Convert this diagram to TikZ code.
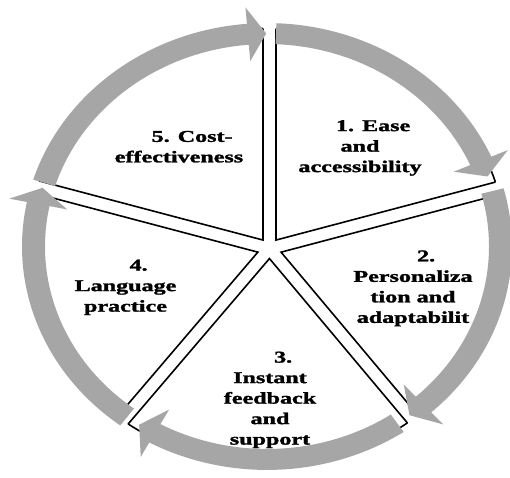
\documentclass[tikz,border=0pt]{standalone}
\usepackage{fontspec}
\newfontfamily\lblfont{Liberation Serif Bold}[FakeBold=1.4]
\usetikzlibrary{calc}
\definecolor{ringgray}{RGB}{166,166,166}
\newcommand\drawseg[3]{%
  \pgfmathsetmacro\segH{(#2-#3)/2}%
  \pgfmathsetmacro\segM{(#2+#3)/2}%
  \pgfmathsetmacro\segD{6.5/sin(\segH)}%
  \coordinate (#1) at ($(S)+(\segM:\segD)$);
  \begin{scope}
    \clip (#1) -- ($(#1)+(#2:420)$) -- ($(#1)+(\segM:600)$) -- ($(#1)+(#3:420)$) -- cycle;
    \draw[segline] (R) ellipse [x radius=239, y radius=218];
  \end{scope}
  \begin{scope}
    \clip (R) ellipse [x radius=239, y radius=218];
    \draw[segline] ($(#1)+(#2:420)$) -- (#1) -- ($(#1)+(#3:420)$);
  \end{scope}}
\newcommand\ringarrow[2]{%
  \pgfmathsetmacro\arB{#2+4.5}%
  \fill[ringgray] (#1:245) arc[start angle=#1, end angle=\arB, radius=245]
    -- (\arB:263) -- (#2:233.5) -- (\arB:204) -- (\arB:222)
    arc[start angle=\arB, end angle=#1, radius=222] -- cycle;}
\newcommand\numline[1]{\hspace*{18pt}#1}
\newcommand\widetext[1]{\scalebox{1.46}[1]{\lblfont\fontsize{16.5}{20.5}\selectfont
  \begin{tabular}{@{}c@{}}#1\end{tabular}}}
\begin{document}
\begin{tikzpicture}[x=1pt,y=1pt,
  segline/.style={line width=1.6pt, draw=black},
  lbl/.style={align=center, text=black, inner sep=0pt}]
\fill[white] (0,0) rectangle (510,477);
\useasboundingbox (0,0) rectangle (510,477);
\coordinate (S) at (269.5,228.5);
\coordinate (R) at (267,230.5);
% pie segments
\drawseg{seg1}{90}{14.8}
\drawseg{seg2}{14.8}{-50}
\drawseg{seg3}{-50}{-130.5}
\drawseg{seg4}{229.5}{165.2}
\drawseg{seg5}{165.2}{90}
% ring of arrows
\begin{scope}[shift={(R)}, yscale=0.912]
  \ringarrow{87.8}{19.2}
  \ringarrow{15.1}{-52.4}
  \ringarrow{-56.1}{-123.2}
  \ringarrow{-126.8}{-196}
  \ringarrow{-197.4}{-269.8}
\end{scope}
% labels
\node[lbl] (l1) at (360,329.5) {\widetext{\numline{1. Ease}\\and\\accessibility}};
\node[lbl] (l2) at (413,189) {\widetext{\numline{2.}\\Personaliza\\tion and\\adaptabilit}};
\node[lbl] (l3) at (270,77.5) {\widetext{\numline{3.}\\Instant\\feedback\\and\\support}};
\node[lbl] (l4) at (125.5,190) {\widetext{\numline{4.}\\Language\\practice}};
\node[lbl] (l5) at (179,329) {\widetext{\numline{5. Cost-}\\effectiveness}};
\end{tikzpicture}
\end{document}
